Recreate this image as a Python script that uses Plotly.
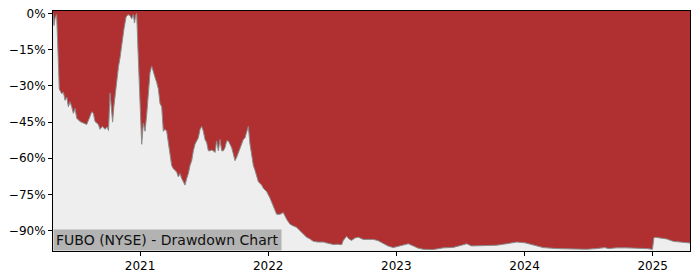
import plotly.graph_objects as go

# decimal year, drawdown in %
years = [
    2020.321, 2020.329, 2020.337, 2020.349, 2020.356, 2020.364, 2020.370, 2020.389, 2020.402, 2020.415,
    2020.428, 2020.441, 2020.454, 2020.467, 2020.480, 2020.493, 2020.506, 2020.532, 2020.558, 2020.584,
    2020.604, 2020.623, 2020.636, 2020.649, 2020.675, 2020.688, 2020.706, 2020.727, 2020.743, 2020.754,
    2020.766, 2020.778, 2020.786, 2020.797, 2020.818, 2020.832, 2020.844, 2020.857, 2020.875, 2020.891,
    2020.906, 2020.922, 2020.935, 2020.948, 2020.957, 2020.965, 2020.974, 2020.984, 2020.996, 2021.008,
    2021.013, 2021.026, 2021.039, 2021.052, 2021.065, 2021.078, 2021.091, 2021.104, 2021.117, 2021.130,
    2021.143, 2021.156, 2021.169, 2021.182, 2021.195, 2021.208, 2021.221, 2021.234, 2021.247, 2021.260,
    2021.273, 2021.286, 2021.299, 2021.312, 2021.325, 2021.338, 2021.351, 2021.364, 2021.377, 2021.390,
    2021.403, 2021.416, 2021.429, 2021.442, 2021.455, 2021.468, 2021.481, 2021.494, 2021.507, 2021.520,
    2021.533, 2021.546, 2021.559, 2021.572, 2021.585, 2021.598, 2021.611, 2021.624, 2021.637, 2021.650,
    2021.663, 2021.676, 2021.689, 2021.702, 2021.715, 2021.728, 2021.741, 2021.754, 2021.767, 2021.780,
    2021.793, 2021.806, 2021.819, 2021.832, 2021.845, 2021.858, 2021.871, 2021.884, 2021.897, 2021.910,
    2021.923, 2021.936, 2021.949, 2021.962, 2021.988, 2022.014, 2022.040, 2022.066, 2022.092, 2022.118,
    2022.144, 2022.170, 2022.196, 2022.222, 2022.248, 2022.274, 2022.300, 2022.326, 2022.352, 2022.389,
    2022.430, 2022.466, 2022.508, 2022.544, 2022.573, 2022.586, 2022.612, 2022.630, 2022.651, 2022.677,
    2022.703, 2022.742, 2022.820, 2022.856, 2022.898, 2022.934, 2022.976, 2023.005, 2023.041, 2023.067,
    2023.093, 2023.132, 2023.168, 2023.210, 2023.288, 2023.366, 2023.444, 2023.509, 2023.548, 2023.587,
    2023.652, 2023.704, 2023.782, 2023.860, 2023.938, 2024.003, 2024.068, 2024.146, 2024.250, 2024.380,
    2024.484, 2024.562, 2024.627, 2024.653, 2024.718, 2024.796, 2024.900, 2024.952, 2024.998, 2025.009,
    2025.017, 2025.056, 2025.108, 2025.160, 2025.212, 2025.291,
]
drawdown = [
    0.0, -5.0, -2.0, -0.5, -10.0, -30.0, -31.3, -33.3, -32.6, -36.0,
    -34.6, -38.7, -36.6, -38.7, -41.4, -39.4, -43.4, -44.8, -45.4, -46.0,
    -43.4, -40.7, -41.4, -44.8, -46.0, -48.0, -46.8, -48.0, -47.0, -48.5,
    -33.0, -40.0, -45.0, -38.0, -26.5, -22.0, -18.4, -13.0, -6.3, -1.5,
    -0.5, -0.9, -2.2, -0.5, -4.0, -1.0, 0.0, -15.0, -35.0, -50.0,
    -54.2, -45.4, -48.8, -42.0, -33.3, -24.5, -21.8, -24.5, -26.5, -28.6,
    -31.3, -37.3, -38.7, -48.8, -48.0, -48.8, -54.2, -59.6, -63.0, -64.3,
    -65.0, -65.7, -67.7, -66.3, -68.4, -69.7, -71.1, -68.4, -66.3, -63.0,
    -61.0, -56.9, -54.2, -52.8, -51.5, -48.1, -46.8, -48.8, -52.2, -53.5,
    -56.9, -56.9, -56.6, -56.9, -57.6, -52.8, -56.9, -52.2, -56.9, -56.9,
    -55.6, -52.8, -52.8, -54.2, -55.6, -58.2, -61.0, -59.6, -57.6, -55.6,
    -53.5, -52.2, -51.5, -48.8, -46.8, -54.2, -59.6, -63.0, -65.0, -67.0,
    -69.7, -70.4, -71.1, -72.4, -73.8, -76.5, -79.9, -83.2, -83.2, -82.5,
    -85.3, -87.3, -88.0, -88.6, -90.0, -91.3, -92.7, -93.4, -94.4, -94.7,
    -94.7, -95.2, -95.7, -95.6, -95.8, -94.0, -92.3, -93.4, -94.0, -93.0,
    -92.7, -93.6, -93.6, -94.1, -95.4, -96.3, -97.0, -96.6, -96.0, -95.7,
    -95.4, -96.3, -97.2, -97.7, -97.8, -97.1, -96.9, -96.0, -95.4, -96.3,
    -96.3, -96.0, -96.0, -95.4, -94.7, -95.0, -96.0, -97.0, -97.4, -97.5,
    -97.7, -97.4, -97.0, -97.4, -97.1, -97.1, -97.1, -97.4, -97.7, -93.0,
    -92.7, -93.1, -93.4, -94.4, -94.7, -95.1,
]

x_ticks = [2021, 2022, 2023, 2024, 2025]
x_tick_labels = ["2021", "2022", "2023", "2024", "2025"]
y_ticks = [0, -15, -30, -45, -60, -75, -90]
y_tick_labels = ["0%", "\u221215%", "\u221230%", "\u221245%", "\u221260%", "\u221275%", "\u221290%"]
title_text = "FUBO (NYSE) - Drawdown Chart"

Y_TOP = 1.0
Y_BOTTOM = -98.4

fig = go.Figure()
fig.add_trace(go.Scatter(x=years, y=[Y_TOP] * len(years), mode="lines",
                         line=dict(width=0, color="rgba(0,0,0,0)"), hoverinfo="skip",
                         showlegend=False))
fig.add_trace(go.Scatter(x=years, y=drawdown, mode="lines", fill="tonexty",
                         fillcolor="#B03031", line=dict(color="#8a8a8a", width=1),
                         showlegend=False))

fig.update_layout(
    width=700, height=280,
    margin=dict(l=53, r=10, t=7, b=28),
    paper_bgcolor="white",
    plot_bgcolor="#EEEEEE",
    font=dict(family="DejaVu Sans", size=12, color="black"),
    showlegend=False,
)
fig.update_xaxes(range=[years[0], years[-1]], tickvals=x_ticks, ticktext=x_tick_labels,
                 showgrid=False, zeroline=False, showline=True, linecolor="black",
                 linewidth=1, mirror=True, ticks="outside", ticklen=4, tickcolor="black",
                 tickfont=dict(size=12))
fig.update_yaxes(range=[Y_BOTTOM, Y_TOP], tickvals=y_ticks, ticktext=y_tick_labels,
                 showgrid=False, zeroline=False, showline=True, linecolor="black",
                 linewidth=1, mirror=True, ticks="outside", ticklen=4, tickcolor="black",
                 tickfont=dict(size=12))

fig.add_annotation(x=0, y=0, xref="paper", yref="paper", xanchor="left", yanchor="bottom",
                   text=title_text, showarrow=False, bgcolor="#B3B3B3",
                   font=dict(family="DejaVu Sans", size=14, color="#111111"),
                   borderpad=2)

fig.write_html("out.html")
